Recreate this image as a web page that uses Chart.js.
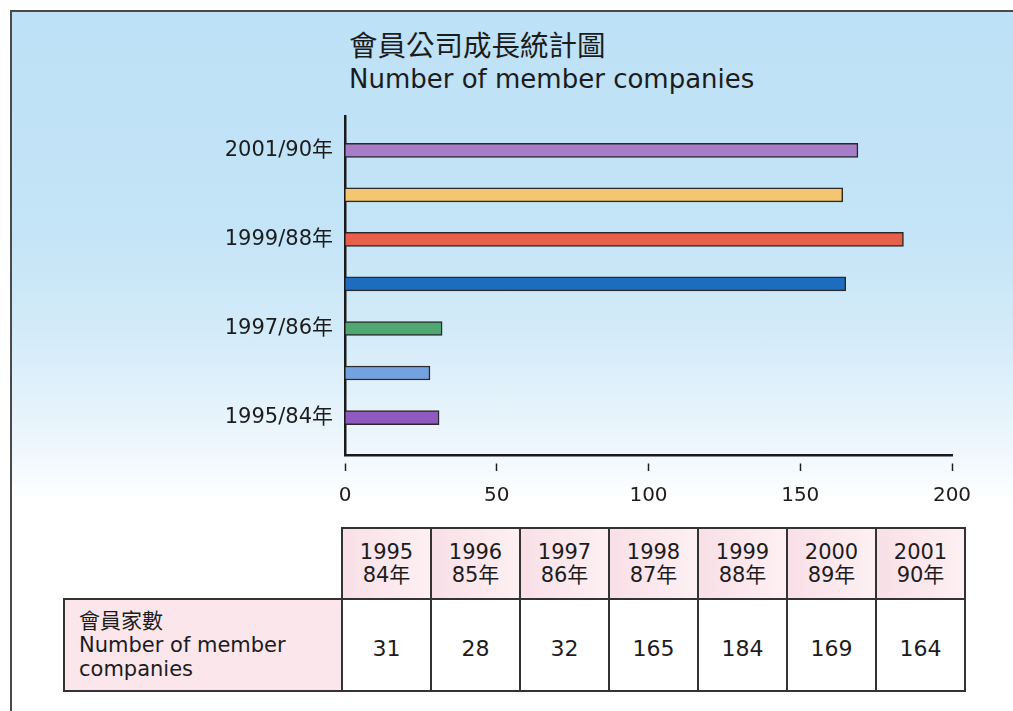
<!DOCTYPE html>
<html>
<head>
<meta charset="utf-8">
<title>會員公司成長統計圖</title>
<script src="https://cdn.jsdelivr.net/npm/chart.js@4.4.0/dist/chart.umd.min.js"></script>
<style>
    html, body { margin: 0; padding: 0; width: 1013px; height: 711px; overflow: hidden; background: #fff; }
    body { position: relative; font-family: 'DejaVu Sans', 'Noto Sans CJK TC', sans-serif; color: #1c1c1c; }
    .frame {
        position: absolute; left: 10px; top: 10px; width: 1030px; height: 730px;
        border-left: 2px solid #4a4a4a; border-top: 2px solid #4a4a4a;
        background: linear-gradient(180deg, #bde1f6 0px, #c4e4f7 220px, #d5ecf9 330px, #edf6fc 430px, #ffffff 490px);
    }
    .title { position: absolute; left: 349px; top: 25px; }
    .title .zh { font-family: 'Noto Sans CJK TC', sans-serif; font-size: 28.5px; line-height: 38px; }
    .title .en { font-size: 26px; line-height: 32px; }
    #chart-wrap { position: absolute; left: 0; top: 100px; width: 1013px; height: 420px; }
    #data-table { position: absolute; left: 63px; top: 527px; border-collapse: collapse; font-size: 21px; }
    #data-table td { border: 2px solid #333; text-align: center; padding: 0; }
    #data-table td.blank { border: none; border-bottom: 2px solid #333; background: transparent; }
    #data-table td.head { background: linear-gradient(90deg, #f9dfe7, #fdf0f3); height: 69px; width: 87px; line-height: 23px; }
    #data-table td.label { background: #fbe6ec; text-align: left; padding-left: 14px; width: 262px; height: 90px; line-height: 24px; }
    #data-table td.val { background: #fff; font-size: 22px; padding-top: 6px; height: 84px; }
</style>
</head>
<body>
<div class="frame"></div>
<div class="title">
    <div class="zh">會員公司成長統計圖</div>
    <div class="en">Number of member companies</div>
</div>
<div id="chart-wrap"><canvas id="growth-chart" width="1013" height="420"></canvas></div>
<table id="data-table"></table>

<script>
// Bar chart data (bottom to top)
const categories = ['1995/84年', '1996/85年', '1997/86年', '1998/87年', '1999/88年', '2000/89年', '2001/90年'];
const barValues = [31, 28, 32, 165, 184, 164, 169];
const barColors = ['#8e5ac0', '#74a2df', '#4fa872', '#1c6dbf', '#e8604b', '#f5c672', '#a77dc8'];
const xTicks = [0, 50, 100, 150, 200];

// Table data
const tableYears = ['1995', '1996', '1997', '1998', '1999', '2000', '2001'];
const tableRocYears = ['84年', '85年', '86年', '87年', '88年', '89年', '90年'];
const tableValues = [31, 28, 32, 165, 184, 169, 164];
const rowLabel = ['會員家數', 'Number of member', 'companies'];

const fontFamily = "'DejaVu Sans', 'Noto Sans CJK TC', sans-serif";

// Build table
const table = document.getElementById('data-table');
let headRow = '<tr><td class="blank"></td>';
tableYears.forEach((y, i) => {
    headRow += '<td class="head">' + y + '<br>' + tableRocYears[i] + '</td>';
});
headRow += '</tr>';
let valRow = '<tr><td class="label">' + rowLabel.join('<br>') + '</td>';
tableValues.forEach(v => {
    valRow += '<td class="val">' + v + '</td>';
});
valRow += '</tr>';
table.innerHTML = headRow + valRow;

// Chart
new Chart(document.getElementById('growth-chart'), {
    type: 'bar',
    data: {
        datasets: [{
            data: barValues.map((v, i) => ({ x: v, y: i })),
            backgroundColor: barColors,
            borderColor: '#2a2a2a',
            borderWidth: 1.5,
            barThickness: 14
        }]
    },
    options: {
        indexAxis: 'y',
        responsive: false,
        animation: false,
        devicePixelRatio: 1,
        layout: { padding: { top: 16, right: 61, left: 0, bottom: 0 } },
        plugins: {
            legend: { display: false },
            tooltip: { enabled: false }
        },
        scales: {
            x: {
                type: 'linear',
                min: 0,
                max: 200,
                afterBuildTicks: scale => { scale.ticks = xTicks.map(v => ({ value: v })); },
                afterFit: scale => {
                    scale.height = 65;
                    scale.paddingRight = 0;
                    scale.paddingLeft = 0;
                },
                border: { color: '#1a1a1a', width: 2.5 },
                grid: {
                    drawOnChartArea: false,
                    tickLength: 16,
                    tickColor: '#222',
                    tickWidth: 1.5,
                    tickBorderDash: [0, 7, 9, 40]
                },
                ticks: {
                    font: { family: fontFamily, size: 20 },
                    color: '#1c1c1c',
                    padding: 13,
                    maxRotation: 0
                }
            },
            y: {
                type: 'linear',
                min: -0.84,
                max: 6.77,
                offset: false,
                afterBuildTicks: scale => { scale.ticks = categories.map((c, i) => ({ value: i })); },
                afterFit: scale => {
                    scale.width = 345;
                    scale.paddingTop = 0;
                    scale.paddingBottom = 0;
                },
                border: { color: '#1a1a1a', width: 2.5 },
                grid: { display: false },
                ticks: {
                    autoSkip: false,
                    callback: v => (v % 2 === 0 ? categories[v] : ''),
                    font: { family: fontFamily, size: 21 },
                    color: '#1c1c1c',
                    padding: 4
                }
            }
        }
    }
});
</script>
</body>
</html>
